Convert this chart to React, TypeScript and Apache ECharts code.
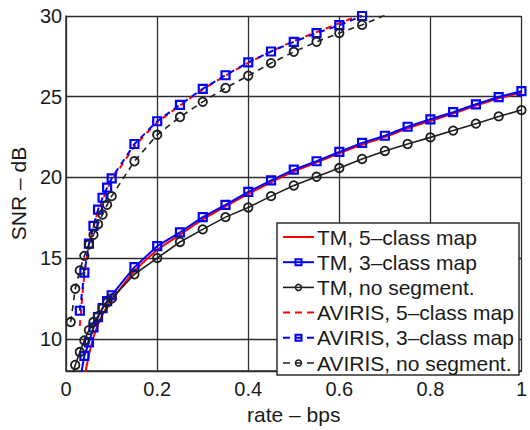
import React, { useEffect, useRef } from "react";
import * as echarts from "echarts";

const rates = [0.01, 0.02, 0.03, 0.04, 0.05, 0.06, 0.07, 0.08, 0.09, 0.1, 0.15, 0.2, 0.25, 0.3, 0.35, 0.4, 0.45, 0.5, 0.55, 0.6, 0.65, 0.7, 0.75, 0.8, 0.85, 0.9, 0.95, 1.0];

const tm5 = [null, null, null, 7.6, 9.0, 10.1, 10.9, 11.5, 12.0, 12.4, 14.2, 15.5, 16.45, 17.4, 18.2, 18.98, 19.7, 20.38, 20.92, 21.5, 22.04, 22.5, 23.04, 23.5, 23.95, 24.45, 24.9, 25.25];
const tm3 = [null, null, 7.4, 8.94, 9.78, 10.7, 11.34, 11.9, 12.34, 12.7, 14.44, 15.74, 16.6, 17.54, 18.3, 19.1, 19.82, 20.48, 21.0, 21.58, 22.14, 22.58, 23.14, 23.6, 24.04, 24.53, 24.98, 25.34];
const tmNoSeg = [7.4, 8.38, 9.18, 9.9, 10.54, 11.04, 11.4, 11.9, 12.24, 12.5, 14.0, 15.0, 16.0, 16.78, 17.54, 18.14, 18.84, 19.5, 20.04, 20.58, 21.14, 21.64, 22.07, 22.48, 22.9, 23.33, 23.78, 24.17];
const av5 = [null, null, 10.8, 14.0, 15.8, 16.9, 17.9, 18.6, 19.25, 19.8, 21.9, 23.4, 24.45, 25.45, 26.3, 27.1, 27.8, 28.45, 29.0, 29.55, 30.1];
const av3 = [null, null, 11.74, 14.1, 15.9, 17.0, 18.0, 18.74, 19.37, 19.94, 22.07, 23.48, 24.5, 25.49, 26.33, 27.13, 27.8, 28.4, 28.94, 29.43, 30.0];
const avNoSeg = [11.04, 13.1, 14.24, 15.14, 15.84, 16.44, 17.1, 17.7, 18.3, 18.84, 21.0, 22.64, 23.74, 24.68, 25.54, 26.3, 27.08, 27.78, 28.4, 28.94, 29.45, 30.05];

const seriesNames = [
  "TM, 5\u2013class map",
  "TM, 3\u2013class map",
  "TM, no segment.",
  "AVIRIS, 5\u2013class map",
  "AVIRIS, 3\u2013class map",
  "AVIRIS, no segment.",
];

const FONT = "'Liberation Sans', Arial, Helvetica, sans-serif";
const RED = "#ff0000";
const BLUE = "#0000ff";
const BLACK = "#1e1e1e";
const GRID = "#2e2e2e";

function pairs(ys: (number | null)[]) {
  const out: [number, number][] = [];
  ys.forEach((y, i) => {
    if (y != null) out.push([rates[i], y]);
  });
  return out;
}

type Kind = { color: string; width: number; dashed: boolean; marker: "none" | "square" | "circle" };
const kinds: Kind[] = [
  { color: RED, width: 2, dashed: false, marker: "none" },
  { color: BLUE, width: 2, dashed: false, marker: "square" },
  { color: BLACK, width: 1.6, dashed: false, marker: "circle" },
  { color: RED, width: 2, dashed: true, marker: "none" },
  { color: BLUE, width: 2, dashed: true, marker: "square" },
  { color: BLACK, width: 1.6, dashed: true, marker: "circle" },
];
const seriesData = [tm5, tm3, tmNoSeg, av5, av3, avNoSeg];

export default function App() {
  const ref = useRef<HTMLDivElement>(null);
  useEffect(() => {
    if (!ref.current) return;
    const chart = echarts.init(ref.current, null, { renderer: "svg" });

    const series = seriesData.map((ys, i) => {
      const k = kinds[i];
      const base: any = {
        type: "line",
        name: seriesNames[i],
        data: pairs(ys),
        silent: true,
        clip: true,
        lineStyle: { color: k.color, width: k.width, type: k.dashed ? [6, 5] : "solid" },
        z: 2 + i,
      };
      if (k.marker === "none") {
        base.symbol = "none";
        base.showSymbol = false;
        base.smooth = 0.2;
      } else if (k.marker === "square") {
        base.symbol = "rect";
        base.symbolSize = 8;
        base.itemStyle = { color: "rgba(255,255,255,0)", borderColor: BLUE, borderWidth: 2.2 };
      } else {
        base.symbol = "circle";
        base.symbolSize = 8.5;
        base.itemStyle = { color: "rgba(255,255,255,0)", borderColor: BLACK, borderWidth: 1.8 };
      }
      return base;
    });

    const lgX = 277, lgY = 223, lgW = 242, lgH = 152;
    const rowY0 = 237, rowStep = 25.2;
    const legendEls: any[] = [
      {
        type: "rect",
        shape: { x: lgX, y: lgY, width: lgW, height: lgH },
        style: { fill: "#ffffff", stroke: GRID, lineWidth: 1.5 },
        z: 100,
      },
    ];
    kinds.forEach((k, i) => {
      const y = rowY0 + i * rowStep;
      legendEls.push({
        type: "line",
        shape: { x1: 283, y1: y, x2: 314, y2: y },
        style: { stroke: k.color, lineWidth: k.width, lineDash: k.dashed ? [7, 5] : null },
        z: 101,
      });
      if (k.marker === "square") {
        legendEls.push({
          type: "rect",
          shape: { x: 295.5, y: y - 3, width: 6, height: 6 },
          style: { fill: "rgba(255,255,255,0)", stroke: BLUE, lineWidth: 2 },
          z: 102,
        });
      } else if (k.marker === "circle") {
        legendEls.push({
          type: "circle",
          shape: { cx: 298.5, cy: y, r: 3 },
          style: { fill: "rgba(255,255,255,0)", stroke: BLACK, lineWidth: 1.5 },
          z: 102,
        });
      }
      legendEls.push({
        type: "text",
        x: 317,
        y: y,
        style: {
          text: seriesNames[i],
          fontSize: 21,
          fontFamily: FONT,
          fill: "#1a1a1a",
          verticalAlign: "middle",
          align: "left",
        },
        z: 102,
      });
    });

    chart.setOption({
      animation: false,
      backgroundColor: "#ffffff",
      grid: { left: 61, right: 1, top: 16, bottom: 48 },
      xAxis: {
        type: "value",
        min: 0,
        max: 1,
        interval: 0.2,
        name: "rate \u2013 bps",
        nameLocation: "middle",
        nameGap: 19,
        nameTextStyle: { fontSize: 21, fontFamily: FONT, color: "#1a1a1a" },
        axisLine: { show: true, onZero: false, lineStyle: { color: GRID, width: 1.5 } },
        axisTick: { show: false },
        splitLine: { show: true, lineStyle: { color: GRID, width: 1.3 } },
        axisLabel: { fontSize: 20, fontFamily: FONT, color: "#1a1a1a", margin: 8 },
      },
      yAxis: {
        type: "value",
        min: 8,
        max: 30,
        splitNumber: 5,
        name: "SNR \u2013 dB",
        nameLocation: "middle",
        nameGap: 30,
        nameTextStyle: { fontSize: 21, fontFamily: FONT, color: "#1a1a1a" },
        axisLine: { show: true, onZero: false, lineStyle: { color: GRID, width: 1.5 } },
        axisTick: { show: false },
        splitLine: { show: true, lineStyle: { color: GRID, width: 1.3 } },
        axisLabel: { fontSize: 20, fontFamily: FONT, color: "#1a1a1a", margin: 4, showMinLabel: false },
      },
      series,
      graphic: { elements: legendEls },
    });

    return () => chart.dispose();
  }, []);

  return (
    <div
      ref={ref}
      style={{ position: "fixed", left: 0, top: 0, width: 530, height: 430, background: "#fff" }}
    />
  );
}
